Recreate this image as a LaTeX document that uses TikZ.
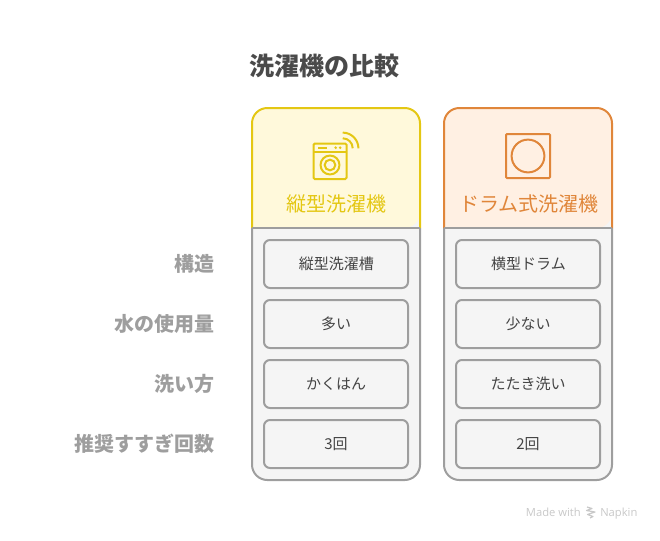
\documentclass[tikz,border=0pt]{standalone}
\usepackage{fontspec}
\setmainfont{Noto Sans CJK JP}
\newfontfamily\markfont{Open Sans}
\usepackage{xcolor}
\definecolor{yellowline}{HTML}{E4C713}
\definecolor{yellowfill}{HTML}{FFF9DB}
\definecolor{orangeline}{HTML}{E0863A}
\definecolor{orangefill}{HTML}{FFF0E3}
\definecolor{greyline}{HTML}{9E9E9E}
\definecolor{greyfill}{HTML}{F5F5F5}
\definecolor{titletext}{HTML}{4A4A4A}
\definecolor{celltext}{HTML}{444444}
\definecolor{marktext}{HTML}{C8C8C8}

\begin{document}
\begin{tikzpicture}[x=0.75pt, y=-0.75pt,
  every node/.style={inner sep=0pt},
  titletag/.style={font=\fontsize{18.8pt}{22pt}\selectfont\bfseries, text=titletext},
  rowtag/.style={font=\fontsize{15pt}{18pt}\selectfont\bfseries, text=greyline, anchor=east},
  headtag/.style={font=\fontsize{15pt}{18pt}\selectfont},
  cell/.style={draw=greyline, fill=greyfill, line width=1.5pt, rounded corners=4.5pt,
    minimum width=108pt, minimum height=36pt, text=celltext,
    font=\fontsize{11.25pt}{14pt}\selectfont},
  cardline/.style={line width=1.5pt, rounded corners=11.5pt},
  iconline/.style={line width=1.5pt},
  marktag/.style={font=\markfont\fontsize{8.4pt}{10pt}\selectfont, text=marktext}]

\useasboundingbox (0,0) rectangle (660,540);

% Titel
\node[titletag] (title) at (324.5,66) {洗濯機の比較};

% linke Karte
\fill[greyfill, rounded corners=11.5pt] (252,200) -- (252,480) -- (420,480) -- (420,200) -- cycle;
\fill[yellowfill, rounded corners=11.5pt] (252,228) -- (252,108) -- (420,108) -- (420,228) [sharp corners] -- cycle;
\draw[greyline, cardline] (252,228) -- (252,480) -- (420,480) -- (420,228);
\draw[yellowline, cardline] (252,228) -- (252,108) -- (420,108) -- (420,228);
\draw[greyline, line width=1.5pt] (252,228) -- (420,228);

% rechte Karte
\fill[greyfill, rounded corners=11.5pt] (444,200) -- (444,480) -- (612,480) -- (612,200) -- cycle;
\fill[orangefill, rounded corners=11.5pt] (444,228) -- (444,108) -- (612,108) -- (612,228) [sharp corners] -- cycle;
\draw[greyline, cardline] (444,228) -- (444,480) -- (612,480) -- (612,228);
\draw[orangeline, cardline] (444,228) -- (444,108) -- (612,108) -- (612,228);
\draw[greyline, line width=1.5pt] (444,228) -- (612,228);

% Waschmaschine
\draw[yellowline, iconline, rounded corners=1pt] (313.5,143.5) rectangle (346.5,179);
\draw[yellowline, iconline] (313.5,151.5) -- (346.5,151.5);
\draw[yellowline, iconline] (318,147.7) -- (327,147.7);
\fill[yellowline] (335.7,147.7) circle (1.1pt) (340.2,147.7) circle (1.1pt);
\draw[yellowline, iconline] (330,165) circle (7.1pt);
\draw[yellowline, iconline] (330,165) circle (4pt);
\draw[yellowline, iconline] (342.7,138.3) arc[start angle=90, end angle=0, radius=7.5pt];
\draw[yellowline, iconline] (342.7,132.6) arc[start angle=90, end angle=0, radius=11.8pt];

% Trommel
\draw[orangeline, iconline, rounded corners=0.8pt] (506,134) rectangle (550,178);
\draw[orangeline, iconline] (528,156) circle (12.3pt);

% Spaltenkoepfe
\node[headtag, text=yellowline] (headtop) at (336,204) {縦型洗濯機};
\node[headtag, text=orangeline] (headdrum) at (529,204) {ドラム式洗濯機};

% Zeilen
\node[rowtag] (rowa) at (215,264) {構造};
\node[rowtag] (rowb) at (215,324) {水の使用量};
\node[rowtag] (rowc) at (215,384) {洗い方};
\node[rowtag] (rowd) at (215,444) {推奨すすぎ回数};

\node[cell] (topa) at (336,264) {\hspace{0.7pt}縦型洗濯槽};
\node[cell] (topb) at (336,324) {多い};
\node[cell] (topc) at (336,384) {かくはん};
\node[cell] (topd) at (336,444) {3回};

\node[cell] (druma) at (528,264) {\hspace{0.7pt}横型ドラム};
\node[cell] (drumb) at (528,324) {少ない};
\node[cell] (drumc) at (528,384) {たたき洗い};
\node[cell] (drumd) at (528,444) {2回};

% Vermerk
\node[marktag, anchor=base east] (markleft) at (581,516) {Made with};
\node[marktag, anchor=base west] (markright) at (600,516) {Napkin};
\draw[marktext, line width=0.9pt, line join=round]
  (587,507) -- (592,508.5) -- (586.5,510.5) -- (595,512) -- (587.5,514.5) -- (593,516.5) -- (590,518);

\end{tikzpicture}
\end{document}
